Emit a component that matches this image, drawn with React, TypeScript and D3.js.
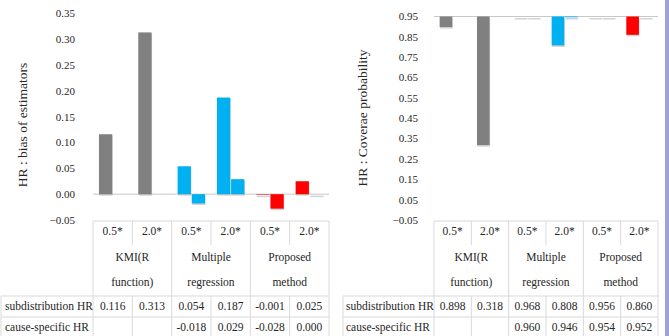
import React from "react";
import * as d3 from "d3";

const categories = ["0.5*", "2.0*", "0.5*", "2.0*", "0.5*", "2.0*"];
const groupLabels = [["KMI(R", "function)"], ["Multiple", "regression"], ["Proposed", "method"]];
const groupColors = ["#808080", "#00B0F0", "#FF0000"];
const seriesNames = ["subdistribution HR", "cause-specific HR"];

const biasSub: (number | null)[] = [0.116, 0.313, 0.054, 0.187, -0.001, 0.025];
const biasCause: (number | null)[] = [null, null, -0.018, 0.029, -0.028, 0.0];
const biasTicks = [0.35, 0.3, 0.25, 0.2, 0.15, 0.1, 0.05, 0.0, -0.05];

const covSub: (number | null)[] = [0.898, 0.318, 0.968, 0.808, 0.956, 0.86];
const covCause: (number | null)[] = [null, null, 0.96, 0.946, 0.954, 0.952];
const covTicks = [0.95, 0.85, 0.75, 0.65, 0.55, 0.45, 0.35, 0.25, 0.15, 0.05, -0.05];

const FONT = "Liberation Serif";
const LINE = "#D9D9D9";
const TEXT = "#262626";

type PanelProps = {
  x0: number; x1: number; rowLabelX: number; rowLineX: number;
  domain: [number, number]; yTop: number; baseline: number;
  ticks: number[]; tickX: number; title: string; titleX: number; titleY: number;
  sub: (number | null)[]; cause: (number | null)[];
};

function Panel(p: PanelProps) {
  const y = d3.scaleLinear().domain(p.domain).range([220, p.yTop]);
  const idx = categories.map((_, i) => String(i));
  const x = d3.scaleBand().domain(idx).range([p.x0, p.x1]).paddingInner(0).paddingOuter(0);
  const xs = d3.scaleBand().domain(["s", "c"]).range([0, x.bandwidth()]).paddingInner(0.06).paddingOuter(0.42);
  const fmt = d3.format(".2f");
  const fmt3 = d3.format(".3f");
  const yb = y(p.baseline);
  const bars: any[] = [];
  categories.forEach((_, i) => {
    [["s", p.sub[i]], ["c", p.cause[i]]].forEach(([k, v]: any) => {
      if (v === null) return;
      const vc = Math.max(p.domain[0], Math.min(p.domain[1], v));
      const yv = y(vc);
      const top = Math.min(yv, yb);
      const h = Math.abs(yv - yb);
      const bx = (x(String(i)) as number) + (xs(k) as number);
      bars.push({ key: `${i}${k}`, bx, top, h, color: groupColors[Math.floor(i / 2)] });
    });
  });
  const bw = xs.bandwidth();
  const cw = x.bandwidth();
  const tTop = 221, r1 = 245, r2 = 296, r3 = 317, tBot = 338;
  const vals = [p.sub, p.cause];
  return (
    <g style={{ fontFamily: FONT }} fill={TEXT}>
      {p.ticks.map((t) => (
        <text key={t} x={p.tickX} y={y(t)} dy="0.35em" textAnchor="end" fontSize={11}>
          {fmt(t)}
        </text>
      ))}
      <text transform={`translate(${p.titleX},${p.titleY}) rotate(-90)`} textAnchor="middle" fontSize={13.5} dy="0.35em">
        {p.title}
      </text>
      <line x1={p.x0} x2={p.x1} y1={yb} y2={yb} stroke="#C8C8C8" strokeWidth={1} />
      {bars.map((b) => (
        <rect key={"sh" + b.key} x={b.bx + 0.5} y={b.top + 1.5} width={bw} height={Math.max(b.h, 1.5)} fill="#A8A8A8" opacity={0.5} />
      ))}
      {bars.map((b) => (
        <rect key={b.key} x={b.bx} y={b.top} width={bw} height={b.h} fill={b.color} />
      ))}
      <line x1={p.x0} x2={p.x1} y1={tTop} y2={tTop} stroke={LINE} />
      <line x1={p.rowLineX} x2={p.x1} y1={r2} y2={r2} stroke={LINE} />
      <line x1={p.rowLineX} x2={p.x1} y1={r3} y2={r3} stroke={LINE} />
      <line x1={p.rowLineX} x2={p.rowLineX} y1={r2} y2={tBot} stroke={LINE} />
      {d3.range(7).map((j) => {
        const xx = p.x0 + j * cw;
        const full = j % 2 === 0;
        return (
          <g key={"v" + j}>
            <line x1={xx} x2={xx} y1={tTop} y2={full ? tBot : r1} stroke={LINE} />
            {!full && <line x1={xx} x2={xx} y1={r2} y2={tBot} stroke={LINE} />}
          </g>
        );
      })}
      {categories.map((c, i) => (
        <text key={"c" + i} x={(x(String(i)) as number) + cw / 2} y={235} textAnchor="middle" fontSize={11.5}>
          {c}
        </text>
      ))}
      {groupLabels.map((g, gi) => (
        <text key={"g" + gi} x={p.x0 + (gi * 2 + 1) * cw} textAnchor="middle" fontSize={11.5}>
          <tspan x={p.x0 + (gi * 2 + 1) * cw} y={261}>{g[0]}</tspan>
          <tspan x={p.x0 + (gi * 2 + 1) * cw} y={286}>{g[1]}</tspan>
        </text>
      ))}
      {seriesNames.map((s, si) => (
        <g key={"r" + si}>
          <text x={p.rowLabelX} y={si === 0 ? 310 : 331} fontSize={11.5}>{s}</text>
          {vals[si].map((v, i) =>
            v === null ? null : (
              <text key={i} x={(x(String(i)) as number) + cw / 2} y={si === 0 ? 310 : 331} textAnchor="middle" fontSize={11.5}>
                {fmt3(v).replace("−", "-")}
              </text>
            )
          )}
        </g>
      ))}
    </g>
  );
}

export default function App() {
  return (
    <svg width={669} height={336} style={{ position: "absolute", left: 0, top: 0, background: "#fff" }}>
      <rect width={669} height={336} fill="#fff" />
      <Panel x0={93} x1={329} rowLabelX={5} rowLineX={1} domain={[-0.05, 0.35]} yTop={13.3} baseline={0}
        ticks={biasTicks} tickX={75} title="HR : bias of estimators" titleX={22} titleY={125}
        sub={biasSub} cause={biasCause} />
      <Panel x0={434} x1={658} rowLabelX={346} rowLineX={343} domain={[-0.05, 0.95]} yTop={16.5} baseline={0.95}
        ticks={covTicks} tickX={418} title="HR : Coverae probability" titleX={362} titleY={118}
        sub={covSub} cause={covCause} />
      <rect x={665} y={0} width={4} height={336} fill="#A0A0D8" />
    </svg>
  );
}
